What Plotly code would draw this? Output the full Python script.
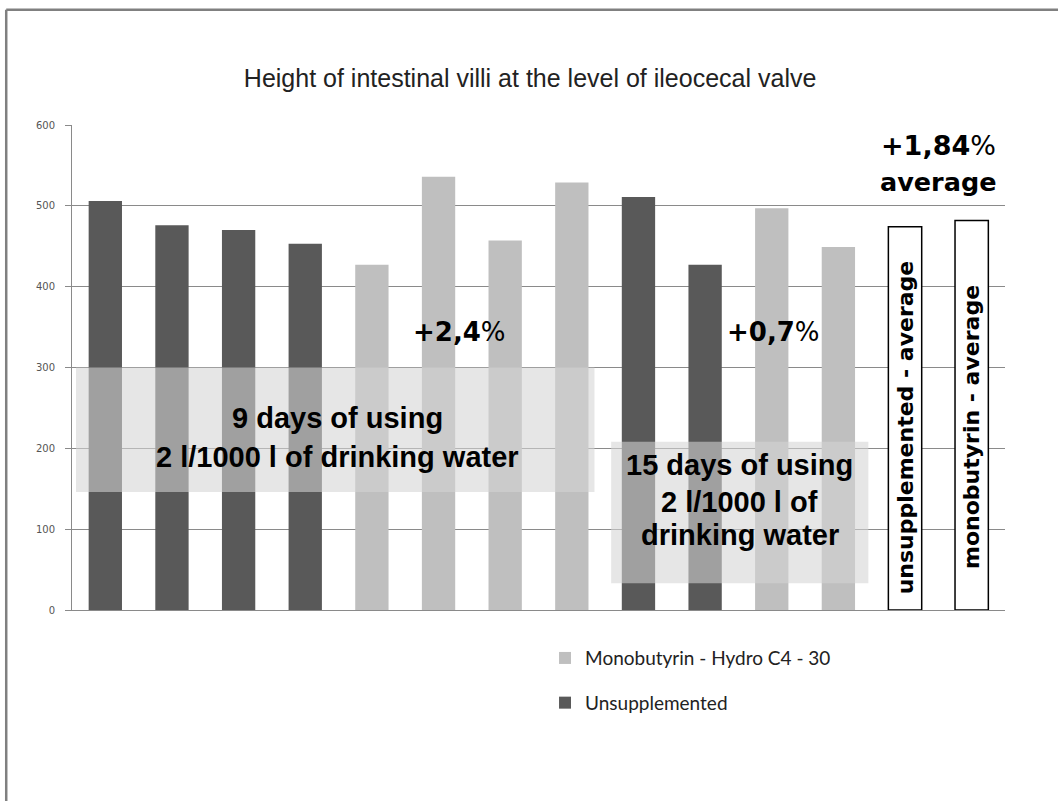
import plotly.graph_objects as go

# ---- data ----
title_text = "Height of intestinal villi at the level of ileocecal valve"
unsupp_name = "Unsupplemented"
mono_name = "Monobutyrin - Hydro C4 - 30"

unsupp_pos = [0, 1, 2, 3, 8, 9]
unsupp_vals = [506, 476, 470, 453, 511, 427]
mono_pos = [4, 5, 6, 7, 10, 11]
mono_vals = [427, 536, 457, 529, 497, 449]
avg_pos = [12, 13]
avg_vals = [474, 482]
avg_labels = ["unsupplemented - average", "monobutyrin - average"]

y_ticks = [0, 100, 200, 300, 400, 500, 600]

DARK = "#595959"
LIGHT = "#bfbfbf"
GRID = "#8a8a8a"

fig = go.Figure()
fig.add_trace(go.Bar(x=mono_pos, y=mono_vals, name=mono_name, width=0.5,
                     marker=dict(color=LIGHT, line=dict(width=0)),
                     legendgroup="m"))
fig.add_trace(go.Bar(x=unsupp_pos, y=unsupp_vals, name=unsupp_name, width=0.5,
                     marker=dict(color=DARK, line=dict(width=0)),
                     legendgroup="u"))
fig.add_trace(go.Bar(x=avg_pos, y=avg_vals, width=0.5, showlegend=False,
                     marker=dict(color="white", line=dict(color="black", width=1.5))))

# outer frame (left and top edges visible)
fig.add_shape(type="line", xref="paper", yref="paper", x0=-0.0705, x1=-0.0705, y0=1.2375, y1=-0.5,
              line=dict(color="#808080", width=2.5))
fig.add_shape(type="line", xref="paper", yref="paper", x0=-0.0705, x1=1.2, y0=1.2375, y1=1.2375,
              line=dict(color="#808080", width=2.5))

# translucent grey panels
overlay = "rgba(212,212,212,0.58)"
fig.add_shape(type="rect", xref="x", yref="y", x0=-0.44, x1=7.34, y0=146, y1=300,
              fillcolor=overlay, line=dict(width=0), layer="above")
fig.add_shape(type="rect", xref="x", yref="y", x0=7.59, x1=11.45, y0=33, y1=208,
              fillcolor=overlay, line=dict(width=0), layer="above")

bold_font = dict(family="Liberation Sans", size=29, color="black")
heavy = dict(family="DejaVu Sans", size=26, color="black")

def ann(text, x, y, font, **kw):
    fig.add_annotation(text=text, x=x, y=y, xref="x", yref="y", showarrow=False,
                       font=font, **kw)

ann("<b>9 days of using</b>", 3.48, 237, bold_font)
ann("<b>2 l/1000 l of drinking water</b>", 3.48, 189, bold_font)
ann("<b>15 days of using</b>", 9.52, 179, bold_font)
ann("<b>2 l/1000 l of</b>", 9.52, 134, bold_font)
ann("<b>drinking water</b>", 9.52, 93, bold_font)

ann("<b>+2,4</b>%", 5.32, 344, heavy)
ann("<b>+0,7</b>%", 10.02, 344, heavy)
ann("<b>+1,84</b>%", 12.5, 575, dict(family="DejaVu Sans", size=27, color="black"))
ann("<b>average</b>", 12.5, 529, dict(family="DejaVu Sans", size=25.5, color="black"))

for xp, lab in zip(avg_pos, avg_labels):
    ann("<b>" + lab + "</b>", xp, 226, dict(family="DejaVu Sans", size=22, color="black"),
        textangle=-90)

fig.update_layout(
    width=1058, height=801,
    margin=dict(l=72, r=53, t=125, b=191),
    paper_bgcolor="white", plot_bgcolor="white",
    barmode="overlay",
    title=dict(text=title_text, x=0.491, xref="paper", xanchor="center",
               y=1 - 78 / 801, yanchor="middle",
               font=dict(family="Liberation Sans", size=25, color="#222222")),
    showlegend=True,
    legend=dict(x=0.507, y=-0.06, xanchor="left", yanchor="top",
                orientation="v", tracegroupgap=17, traceorder="grouped",
                font=dict(family="Lato", size=19, color="#222222"),
                bgcolor="rgba(0,0,0,0)"),
    xaxis=dict(range=[-0.5, 13.5], showticklabels=False, showgrid=False,
               showline=True, linecolor=GRID, linewidth=1, ticks="", zeroline=False,
               fixedrange=True),
    yaxis=dict(range=[0, 600], tickvals=y_ticks, showgrid=True, gridcolor=GRID,
               gridwidth=1, showline=True, linecolor=GRID, linewidth=1,
               ticks="outside", ticklen=6, tickcolor=GRID, zeroline=False,
               tickfont=dict(family="DejaVu Sans", size=10, color="#555555"),
               ticklabelstandoff=8),
)

fig.write_html("out.html", config={"displayModeBar": False},
               post_script="document.body.style.margin='0';document.body.style.overflow='hidden';")
